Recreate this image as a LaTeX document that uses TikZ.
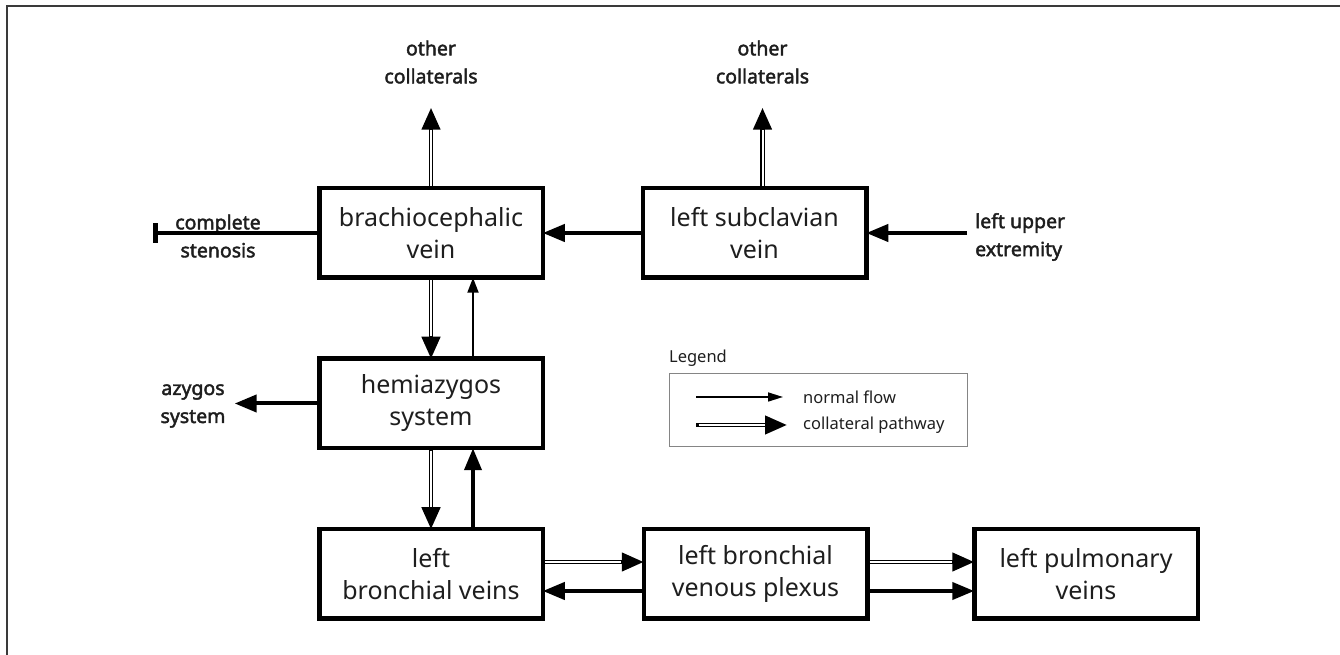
\documentclass[tikz,border=0pt]{standalone}
\usepackage{fontspec}
\setmainfont{Noto Sans}
\newfontfamily\lblfont{Noto Sans}[FakeBold=2.2]
\usetikzlibrary{positioning,arrows.meta}
\definecolor{txt}{HTML}{1E1E1E}
\definecolor{framegray}{HTML}{3A3A3A}
\definecolor{legline}{HTML}{858585}

\begin{document}
\begin{tikzpicture}[x=1pt,y=1pt,node distance=100pt,
				vein/.style={draw,rectangle,line width=4.5pt,minimum width=223.5pt,minimum height=89.5pt,outer sep=0pt,align=center,text=txt,font=\fontsize{25}{32}\selectfont},
				lbl/.style={inner sep=0pt,align=center,text=txt,font=\lblfont\fontsize{19.5}{28}\selectfont},
				leg/.style={inner sep=0pt,text=txt,font=\fontsize{16.5}{20}\selectfont},
				flow/.style={line width=4pt,-{Triangle[length=22pt,width=17pt]}},
				thinflow/.style={line width=2pt,-{Triangle[length=15pt,width=11pt]}},
				coll/.style={line width=4.4pt,-{Triangle[length=22pt,width=18pt]},
					postaction={draw=white,line width=2pt,-,shorten >=22.5pt,shorten <=2.5pt}}]
				\useasboundingbox (0,0) rectangle (1340,655);
				\draw[framegray,line width=2pt] (7.3,0) -- (7.3,649.3) -- (1340,649.3);

				\node[vein] (BCV)                        at (431,422) {brachiocephalic\\vein};
				\node[vein] (LSV) [right=of BCV]        {left subclavian\\vein};
				\node[vein] (HAS) [below=81pt of BCV]   {hemiazygos\\system};
				\node[vein] (LBV) [below=81pt of HAS]   {left\\bronchial veins};
				\node[vein] (PLX) [right=101pt of LBV]  {left bronchial\\venous plexus};
				\node[vein] (LPV) [right=107pt of PLX]  {left pulmonary\\veins};

				\node[lbl] (OC1)  at (431,593)   {other\\collaterals};
				\node[lbl] (OC2)  at (762.5,593) {other\\collaterals};
				\node[lbl] (STEN) at (218,419)   {complete\\stenosis};
				\node[lbl,inner xsep=9pt] (AZY) at (193,249) {azygos\\system};
				\node[lbl,inner xsep=8pt,align=left,anchor=west] (LUE) at (967,418) {left upper\\extremity};
				\coordinate (OC1tip)  at ([yshift=-24pt]OC1.south);
				\coordinate (OC2tip)  at ([yshift=-24pt]OC2.south);
				\coordinate (STENEND) at (153,422);

				\draw[coll]     (BCV.north) -- (BCV.north |- OC1tip);
				\draw[coll]     (LSV.north -| OC2) -- (OC2tip);
				\draw[flow]     (LUE.west |- LSV.east) -- (LSV.east);
				\draw[flow]     (LSV) -- (BCV);
				\draw[line width=4pt,-{Bar[width=20pt,line width=5pt]}] (BCV.west) -- (BCV.west -| STENEND);
				\draw[flow]     (HAS.west) -- (HAS.west -| AZY.east);
				\draw[coll]     (BCV) -- (HAS);
				\draw[thinflow] ([xshift=42pt]HAS.north) -- ([xshift=42pt]BCV.south);
				\draw[coll]     (HAS) -- (LBV);
				\draw[flow]     ([xshift=42pt]LBV.north) -- ([xshift=42pt]HAS.south);
				\draw[coll]     ([yshift=12pt]LBV.east) -- ([yshift=12pt]PLX.west);
				\draw[flow]     ([yshift=-17pt]PLX.west) -- ([yshift=-17pt]LBV.east);
				\draw[coll]     ([yshift=12pt]PLX.east) -- ([yshift=12pt]LPV.west);
				\draw[flow]     ([yshift=-17pt]PLX.east) -- ([yshift=-17pt]LPV.west);

				% legend
				\node[draw=legline,line width=1.2pt,minimum width=298pt,minimum height=73pt,inner sep=0pt] (LEGBOX) at (818.5,245) {};
				\node[leg,anchor=south west] (LEGTXT) at ([yshift=6pt]LEGBOX.north west) {Legend};
				\node[leg,anchor=west] (NF) at (803,258) {normal flow};
				\node[leg,anchor=west] (CP) at (803,230) {collateral pathway};
				\coordinate (NFa) at (696,258);
				\coordinate (CPa) at (696,230);
				\draw[line width=1.6pt,-{Triangle[length=15pt,width=9pt]}] (NFa) -- ([xshift=-20pt]NF.west |- NFa);
				\draw[coll,line width=4.2pt] (CPa) -- ([xshift=-16pt]CP.west |- CPa);
			\end{tikzpicture}
\end{document}
